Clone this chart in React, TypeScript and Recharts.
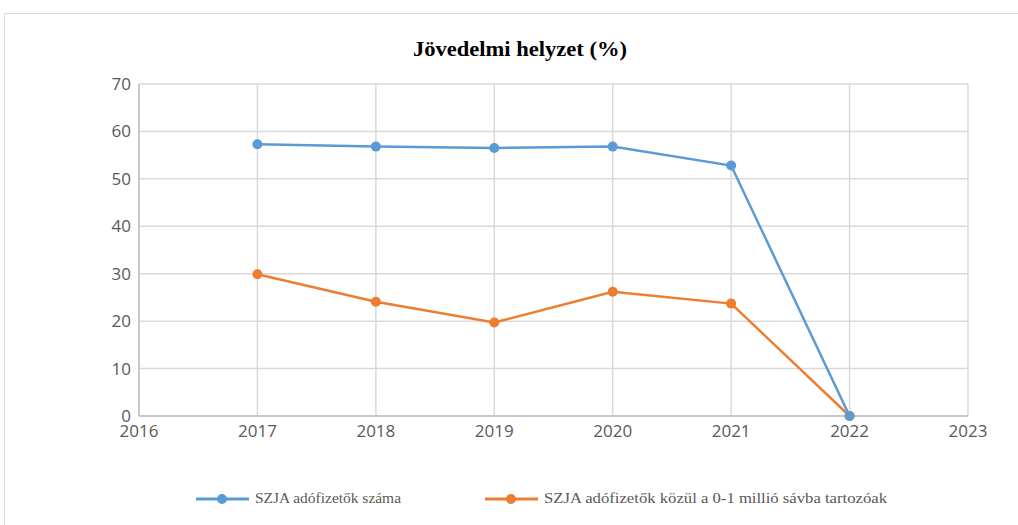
import { LineChart, Line, XAxis, YAxis, CartesianGrid } from 'recharts';

// ---------------------------------------------------------------------------
// Data
// ---------------------------------------------------------------------------
const years = [2017, 2018, 2019, 2020, 2021, 2022];
const taxpayers = [57.3, 56.8, 56.5, 56.8, 52.8, 0];
const lowBand = [29.9, 24.1, 19.7, 26.2, 23.7, 0];
const xTicks = [2016, 2017, 2018, 2019, 2020, 2021, 2022, 2023];
const yTicks = [0, 10, 20, 30, 40, 50, 60, 70];

const TITLE = 'Jövedelmi helyzet (%)';
const NAME_TAXPAYERS = 'SZJA adófizetők száma';
const NAME_LOW_BAND = 'SZJA adófizetők közül a 0-1 millió sávba tartozóak';

// ---------------------------------------------------------------------------
// Styling
// ---------------------------------------------------------------------------
const BLUE = '#5b9bd5';
const ORANGE = '#ed7d31';
const GRID = '#d9d9d9';
const AXIS = '#bfbfbf';
const TICK = '#595959';
const SANS = '"Open Sans", "Liberation Sans", sans-serif';
const SERIF = '"Liberation Serif", "DejaVu Serif", serif';

const chartData = years.map((year, i) => ({
  year,
  taxpayers: taxpayers[i],
  lowBand: lowBand[i],
}));

// Legend entry: line sample with a dot, then the series name
function LegendItem({ color, label, x, width }: { color: string; label: string; x: number; width: number }) {
  return (
    <g>
      <line x1={x} x2={x + 53} y1={499} y2={499} stroke={color} strokeWidth={3} />
      <circle cx={x + 26} cy={499} r={5} fill={color} />
      <text
        x={x + 59}
        y={503}
        fontFamily={SERIF}
        fontSize={14}
        fill={TICK}
        textLength={width}
        lengthAdjust="spacingAndGlyphs"
      >
        {label}
      </text>
    </g>
  );
}

export default function App() {
  return (
    <div style={{ position: 'absolute', left: 0, top: 0, width: 1018, height: 525, overflow: 'hidden', background: '#fff' }}>
      <div
        style={{
          position: 'absolute',
          left: 4,
          top: 13,
          width: 1040,
          height: 540,
          border: '1px solid #d9d9d9',
        }}
      />
      <LineChart
        width={1018}
        height={525}
        data={chartData}
        margin={{ top: 84, right: 50, bottom: 79, left: 0 }}
        style={{ position: 'absolute', left: 0, top: 0 }}
      >
        <CartesianGrid stroke={GRID} strokeWidth={1.5} />
        <XAxis
          dataKey="year"
          type="number"
          domain={[2016, 2023]}
          ticks={xTicks}
          height={30}
          tick={{ fill: TICK, fontSize: 17, fontFamily: SANS }}
          tickLine={false}
          tickSize={0}
          tickMargin={9}
          axisLine={{ stroke: AXIS, strokeWidth: 1.5 }}
          interval={0}
        />
        <YAxis
          domain={[0, 70]}
          ticks={yTicks}
          width={139}
          tick={{ fill: TICK, fontSize: 17, fontFamily: SANS }}
          tickLine={false}
          tickSize={0}
          tickMargin={8}
          axisLine={{ stroke: AXIS, strokeWidth: 1.5 }}
          interval={0}
        />
        <Line
          dataKey="lowBand"
          name={NAME_LOW_BAND}
          stroke={ORANGE}
          strokeWidth={2.5}
          dot={{ r: 5, fill: ORANGE, stroke: ORANGE, strokeWidth: 0 }}
          isAnimationActive={false}
        />
        <Line
          dataKey="taxpayers"
          name={NAME_TAXPAYERS}
          stroke={BLUE}
          strokeWidth={2.5}
          dot={{ r: 5, fill: BLUE, stroke: BLUE, strokeWidth: 0 }}
          isAnimationActive={false}
        />
      </LineChart>
      <svg width={1018} height={525} style={{ position: 'absolute', left: 0, top: 0, pointerEvents: 'none' }}>
        <text
          x={520}
          y={56}
          textAnchor="middle"
          fontFamily={SERIF}
          fontWeight="bold"
          fontSize={20}
          fill="#000"
          textLength={214}
          lengthAdjust="spacingAndGlyphs"
        >
          {TITLE}
        </text>
        <LegendItem color={BLUE} label={NAME_TAXPAYERS} x={196} width={146} />
        <LegendItem color={ORANGE} label={NAME_LOW_BAND} x={485} width={343} />
      </svg>
    </div>
  );
}
